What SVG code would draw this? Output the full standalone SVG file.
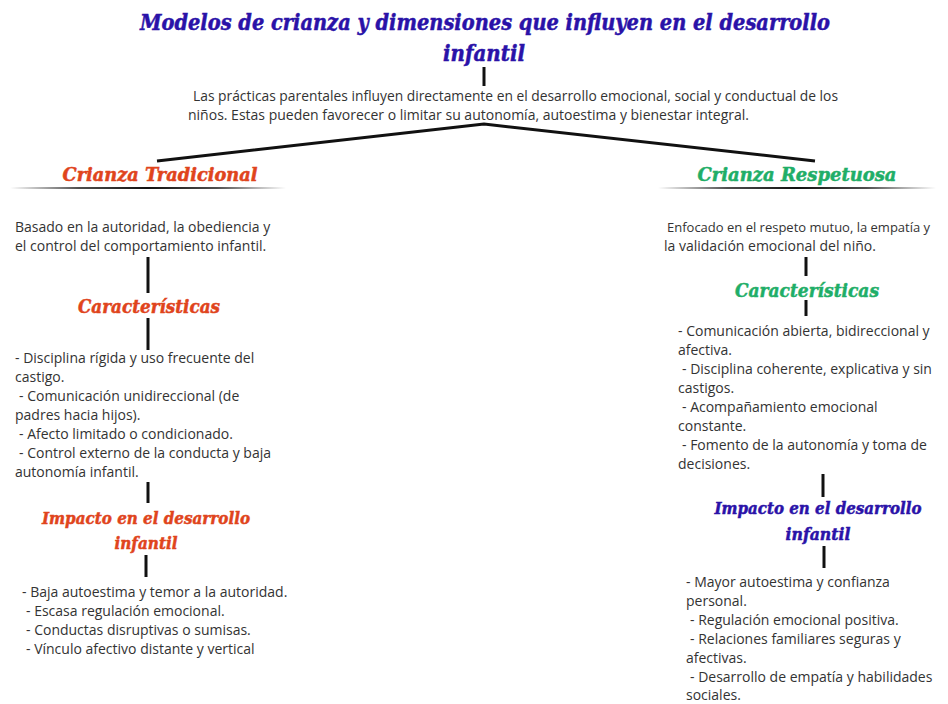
<svg xmlns="http://www.w3.org/2000/svg" width="948" height="704" viewBox="0 0 948 704">
<defs>
<linearGradient id="ul" x1="0" y1="0" x2="1" y2="0">
<stop offset="0" stop-color="#222" stop-opacity="0"/>
<stop offset="0.25" stop-color="#222" stop-opacity="0.8"/>
<stop offset="0.5" stop-color="#111" stop-opacity="1"/>
<stop offset="0.75" stop-color="#222" stop-opacity="0.8"/>
<stop offset="1" stop-color="#222" stop-opacity="0"/>
</linearGradient>
</defs>
<style>
.h{font-family:"DejaVu Serif","Liberation Serif",serif;font-weight:bold;font-style:italic;stroke-width:0.5;}
.blue{fill:#2a12a8;stroke:#2a12a8;}
.red{fill:#e0441c;stroke:#e0441c;}
.green{fill:#1fae68;stroke:#1fae68;}
.b{font-family:"Open Sans","Noto Sans",sans-serif;font-size:14px;fill:#333;}
.c{stroke:#111;stroke-width:3;fill:none;}
</style>
<rect width="948" height="704" fill="#fff"/>
<g id="connectors">
<line class="c" x1="484" y1="67" x2="484" y2="86"/>
<polyline class="c" points="157,161 484,124 815,161"/>
<line class="c" x1="148" y1="257" x2="148" y2="293"/>
<line class="c" x1="148" y1="318" x2="148" y2="350"/>
<line class="c" x1="148" y1="482" x2="148" y2="503"/>
<line class="c" x1="146" y1="555" x2="146" y2="577"/>
<line class="c" x1="806" y1="257" x2="806" y2="276"/>
<line class="c" x1="806" y1="300" x2="806" y2="316"/>
<line class="c" x1="823" y1="474" x2="823" y2="497"/>
<line class="c" x1="824" y1="546" x2="824" y2="568"/>
</g>
<g id="title">
<text class="h blue" x="485" y="30" font-size="22" text-anchor="middle" textLength="690" lengthAdjust="spacingAndGlyphs">Modelos de crianza y dimensiones que influyen en el desarrollo</text>
<text class="h blue" x="484" y="61" font-size="22" text-anchor="middle" textLength="82" lengthAdjust="spacingAndGlyphs">infantil</text>
</g>
<g id="intro">
<text class="b" x="193" y="101" textLength="645" lengthAdjust="spacingAndGlyphs">Las prácticas parentales influyen directamente en el desarrollo emocional, social y conductual de los</text>
<text class="b" x="188" y="120">niños. Estas pueden favorecer o limitar su autonomía, autoestima y bienestar integral.</text>
</g>
<g id="tradicional">
<text class="h red" x="160" y="181" font-size="18" text-anchor="middle" textLength="195" lengthAdjust="spacingAndGlyphs">Crianza Tradicional</text>
<rect x="10" y="187" width="276" height="2" fill="url(#ul)"/>
</g>
<g id="tradicional-desc">
<text class="b" x="15" y="232">Basado en la autoridad, la obediencia y</text>
<text class="b" x="15" y="251">el control del comportamiento infantil.</text>
</g>
<g id="tradicional-caracteristicas">
<text class="h red" x="149" y="313" font-size="18" text-anchor="middle" textLength="142" lengthAdjust="spacingAndGlyphs">Características</text>
</g>
<g id="tradicional-lista">
<text class="b" x="15" y="363">- Disciplina rígida y uso frecuente del</text>
<text class="b" x="15" y="382">castigo.</text>
<text class="b" x="19" y="401">- Comunicación unidireccional (de</text>
<text class="b" x="15" y="420">padres hacia hijos).</text>
<text class="b" x="19" y="439">- Afecto limitado o condicionado.</text>
<text class="b" x="19" y="458">- Control externo de la conducta y baja</text>
<text class="b" x="15" y="477">autonomía infantil.</text>
</g>
<g id="tradicional-impacto">
<text class="h red" x="146" y="524" font-size="17" text-anchor="middle" textLength="208" lengthAdjust="spacingAndGlyphs">Impacto en el desarrollo</text>
<text class="h red" x="146" y="549" font-size="17" text-anchor="middle" textLength="63" lengthAdjust="spacingAndGlyphs">infantil</text>
</g>
<g id="tradicional-impacto-lista">
<text class="b" x="22" y="597">- Baja autoestima y temor a la autoridad.</text>
<text class="b" x="26" y="616">- Escasa regulación emocional.</text>
<text class="b" x="26" y="635">- Conductas disruptivas o sumisas.</text>
<text class="b" x="26" y="654">- Vínculo afectivo distante y vertical</text>
</g>
<g id="respetuosa">
<text class="h green" x="797" y="181" font-size="18" text-anchor="middle" textLength="199" lengthAdjust="spacingAndGlyphs">Crianza Respetuosa</text>
<rect x="658" y="187" width="278" height="2" fill="url(#ul)"/>
</g>
<g id="respetuosa-desc">
<text class="b" x="667" y="232" style="font-size:13px">Enfocado en el respeto mutuo, la empatía y</text>
<text class="b" x="664" y="251">la validación emocional del niño.</text>
</g>
<g id="respetuosa-caracteristicas">
<text class="h green" x="807" y="297" font-size="18" text-anchor="middle" textLength="144" lengthAdjust="spacingAndGlyphs">Características</text>
</g>
<g id="respetuosa-lista">
<text class="b" x="678" y="336">- Comunicación abierta, bidireccional y</text>
<text class="b" x="678" y="355">afectiva.</text>
<text class="b" x="682" y="374">- Disciplina coherente, explicativa y sin</text>
<text class="b" x="678" y="393">castigos.</text>
<text class="b" x="682" y="412">- Acompañamiento emocional</text>
<text class="b" x="678" y="431">constante.</text>
<text class="b" x="682" y="450">- Fomento de la autonomía y toma de</text>
<text class="b" x="678" y="469">decisiones.</text>
</g>
<g id="respetuosa-impacto">
<text class="h blue" x="818" y="514" font-size="17" text-anchor="middle" textLength="207" lengthAdjust="spacingAndGlyphs">Impacto en el desarrollo</text>
<text class="h blue" x="818" y="540" font-size="17" text-anchor="middle" textLength="65" lengthAdjust="spacingAndGlyphs">infantil</text>
</g>
<g id="respetuosa-impacto-lista">
<text class="b" x="686" y="587">- Mayor autoestima y confianza</text>
<text class="b" x="686" y="606">personal.</text>
<text class="b" x="690" y="625">- Regulación emocional positiva.</text>
<text class="b" x="690" y="644">- Relaciones familiares seguras y</text>
<text class="b" x="686" y="663">afectivas.</text>
<text class="b" x="690" y="682">- Desarrollo de empatía y habilidades</text>
<text class="b" x="686" y="700">sociales.</text>
</g>
</svg>
